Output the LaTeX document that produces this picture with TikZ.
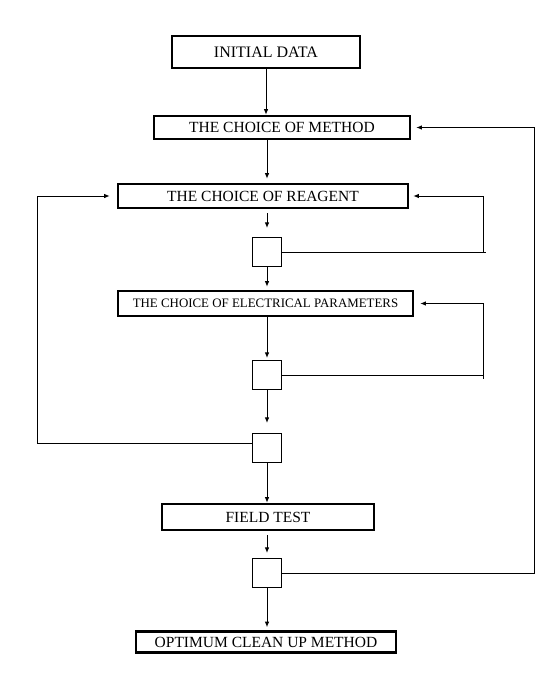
\documentclass[tikz,border=0pt]{standalone}
\usepackage{fontspec}
\setmainfont{Liberation Serif}
\usetikzlibrary{arrows.meta,positioning,calc}
\tikzset{
  stagenode/.style={draw,line width=2.6pt,fill=white,inner sep=0pt,align=center,font=\fontsize{15.5}{18}\selectfont},
  checknode/.style={draw,line width=1.1pt,fill=white,minimum width=29pt,minimum height=29pt,inner sep=0pt},
  arrow/.style={-{Latex[length=5.5pt,width=4.5pt]},line width=1pt},
  backline/.style={line width=1pt}
}
\begin{document}
\begin{tikzpicture}[x=1pt,y=-1pt]
  \useasboundingbox (0,0) rectangle (558,687);

  % main stages
  \node[stagenode,minimum width=188pt,minimum height=32pt,font=\fontsize{16}{18}\selectfont] (init) at (266,52) {INITIAL DATA};
  \node[stagenode,minimum width=256pt,minimum height=23pt] (method) at (282,127.5) {THE CHOICE OF METHOD};
  \node[stagenode,minimum width=290pt,minimum height=24pt] (reagent) at (263,196) {THE CHOICE OF REAGENT};
  \node[stagenode,minimum width=295pt,minimum height=25pt,font=\fontsize{12.9}{15}\selectfont] (elec) at (265.5,303.5) {THE CHOICE OF ELECTRICAL PARAMETERS};
  \node[stagenode,minimum width=212pt,minimum height=26pt] (field) at (268,517) {FIELD TEST};
  \node[stagenode,minimum width=260pt,minimum height=21pt] (opt) at (266,642) {OPTIMUM CLEAN UP METHOD};

  % check boxes
  \node[checknode] (c1) at (267,252) {};
  \node[checknode] (c2) at (267,375) {};
  \node[checknode] (c3) at (267,448) {};
  \node[checknode] (c4) at (267,573) {};

  % main flow
  \draw[arrow] (init.south) -- (init.south |- method.north);
  \draw[arrow,shorten >=4pt] (c1.north |- method.south) -- (c1.north |- reagent.north);
  \draw[arrow,shorten <=4pt,shorten >=9pt] (c1.north |- reagent.south) -- (c1.north);
  \draw[arrow,shorten >=3pt] (c1.south) -- (c1.south |- elec.north);
  \draw[arrow,shorten >=2pt] (c1.south |- elec.south) -- (c2.north);
  \draw[arrow,shorten >=10pt] (c2.south) -- (c3.north);
  \draw[arrow] (c3.south) -- (c3.south |- field.north);
  \draw[arrow,shorten <=4pt,shorten >=5pt] (c4.north |- field.south) -- (c4.north);
  \draw[arrow,shorten >=3pt] (c4.south) -- (c4.south |- opt.north);

  % feedback loops
  \coordinate (rfar) at (534,0);
  \coordinate (rmid) at (483,0);
  \coordinate (lfar) at (37,0);
  \coordinate (c3w) at ([yshift=5pt]c3.west);
  \draw[arrow,shorten >=5pt] (c4.east) -- (c4.east -| rfar) |- (method.east);
  \draw[arrow,shorten >=4pt] (c1.east) -- (c1.east -| rmid) |- (reagent.east);
  \draw[backline] (c1.east -| rmid) -- ++(3,0);
  \draw[arrow,shorten >=6pt] (c2.east) -- (c2.east -| rmid) |- (elec.east);
  \draw[backline] (c2.east -| rmid) -- ++(0,4);
  \draw[arrow,shorten >=7pt] (c3w) -- (c3w -| lfar) |- (reagent.west);
\end{tikzpicture}
\end{document}
